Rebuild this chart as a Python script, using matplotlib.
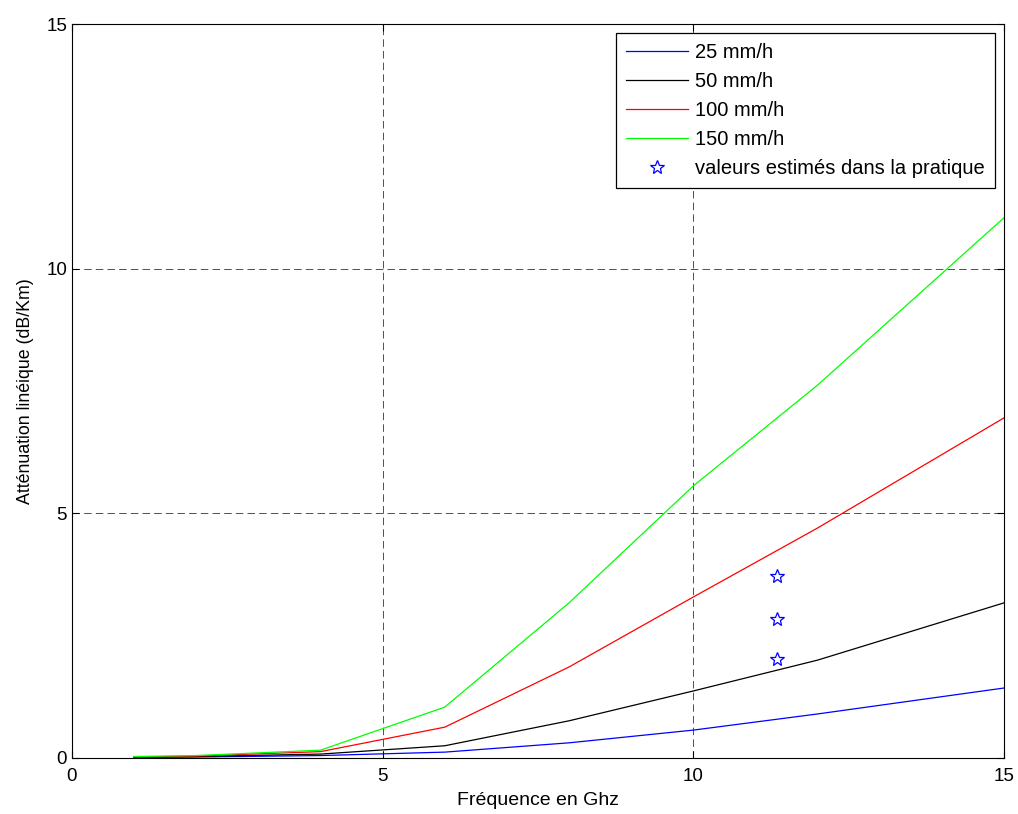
import matplotlib
matplotlib.use('Agg')
import matplotlib.pyplot as plt

plt.rcParams['font.family'] = ['Liberation Sans', 'DejaVu Sans']

# Frequencies (GHz) and specific attenuation (dB/km) per rain rate
freq = [1, 2, 4, 6, 8, 10, 12, 15]
att_25 = [0.01, 0.02, 0.05, 0.12, 0.31, 0.57, 0.90, 1.43]
att_50 = [0.02, 0.03, 0.08, 0.25, 0.76, 1.37, 2.00, 3.17]
att_100 = [0.02, 0.04, 0.13, 0.63, 1.86, 3.29, 4.70, 6.95]
att_150 = [0.03, 0.05, 0.16, 1.04, 3.17, 5.56, 7.62, 11.04]

# Values estimated in practice
star_x = [11.35, 11.35, 11.35]
star_y = [3.72, 2.85, 2.03]

fig = plt.figure(figsize=(10.18, 8.14), dpi=100)
ax = fig.add_axes([0.0707, 0.0688, 0.9155, 0.9017])

ax.plot(freq, att_25, color='#0000ff', lw=0.9, label='25 mm/h')
ax.plot(freq, att_50, color='black', lw=0.9, label='50 mm/h')
ax.plot(freq, att_100, color='#ff0000', lw=0.9, label='100 mm/h')
ax.plot(freq, att_150, color='#00ff00', lw=0.9, label='150 mm/h')
ax.plot(star_x, star_y, linestyle='none', marker='*', markersize=10,
        markerfacecolor='none', markeredgecolor='#0000ff', markeredgewidth=0.9,
        label='valeurs estimés dans la pratique')

ax.set_xlim(0, 15)
ax.set_ylim(0, 15)
ax.set_xticks([0, 5, 10, 15])
ax.set_yticks([0, 5, 10, 15])
ax.tick_params(direction='in', top=True, right=True, labelsize=13.5, length=5)
ax.tick_params(axis='x', pad=7)
ax.grid(True, color='black', linestyle=(0, (9, 5)), linewidth=0.6, alpha=0.8)
for s in ax.spines.values():
    s.set_linewidth(0.8)

ax.set_xlabel('Fréquence en Ghz', fontsize=14, labelpad=5)
ax.set_ylabel('Atténuation linéique (dB/Km)', fontsize=12.8, labelpad=9)

leg = ax.legend(loc='upper right', fontsize=14.5, borderaxespad=0.45,
                fancybox=False, framealpha=1, edgecolor='black',
                handlelength=3.1, handletextpad=0.35, borderpad=0.5,
                labelspacing=0.5)
leg.get_frame().set_linewidth(0.9)

fig.savefig('out.png', dpi=100)
